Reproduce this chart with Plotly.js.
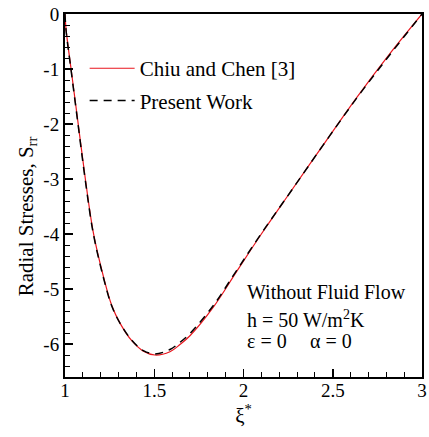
<!DOCTYPE html>
<html>
<head>
<meta charset="utf-8">
<script src="https://cdn.plot.ly/plotly-3.0.1.min.js"></script>
<style>html,body{margin:0;padding:0;background:#fff;}#chart{width:429px;height:437px;}</style>
</head>
<body>
<div id="chart"></div>
<script>
// Chiu and Chen [3] (red solid)
const xChiu = [1.000, 1.006, 1.034, 1.074, 1.114, 1.159, 1.215, 1.262, 1.308, 1.374, 1.439, 1.504, 1.588, 1.644, 1.700, 1.831, 1.962, 2.100, 2.260, 2.447, 2.634, 2.820, 3.000];
const yChiu = [0.00, -0.28, -1.00, -2.00, -3.00, -3.98, -4.77, -5.30, -5.62, -5.94, -6.13, -6.20, -6.14, -6.01, -5.85, -5.33, -4.68, -4.00, -3.25, -2.38, -1.52, -0.72, 0.00];
// Present Work (black dashed)
const xPresent = [1.000, 1.006, 1.034, 1.074, 1.114, 1.159, 1.215, 1.262, 1.308, 1.374, 1.439, 1.504, 1.588, 1.644, 1.700, 1.831, 1.962, 2.100, 2.260, 2.447, 2.634, 2.820, 3.000];
const yPresent = [0.00, -0.30, -1.02, -2.03, -3.03, -4.00, -4.79, -5.31, -5.62, -5.93, -6.12, -6.18, -6.10, -5.97, -5.81, -5.30, -4.66, -3.99, -3.25, -2.38, -1.53, -0.74, 0.00];

const xTicks = [1, 1.5, 2, 2.5, 3];
const xTickText = ['1', '1.5', '2', '2.5', '3'];
const yTicks = [0, -1, -2, -3, -4, -5, -6];
const yTickText = ['0', '-1', '-2', '-3', '-4', '-5', '-6'];

const serif = 'Liberation Serif, Times New Roman, serif';

const traces = [
  {x: xChiu, y: yChiu, mode: 'lines', name: 'Chiu and Chen [3]', legendgroup: 'a',
   line: {color: '#e8141c', width: 1.2, shape: 'spline', smoothing: 1}},
  {x: xPresent, y: yPresent, mode: 'lines', name: 'Present Work', legendgroup: 'b',
   line: {color: '#000000', width: 1.5, dash: '8px,6px', shape: 'spline', smoothing: 1}}
];

const axisCommon = {
  showgrid: false, zeroline: false, showline: true, linecolor: '#000', linewidth: 2,
  mirror: true, ticks: 'inside', ticklen: 8, tickwidth: 1.5, tickcolor: '#000',
  tickfont: {family: serif, size: 19, color: '#000'}
};

const layout = {
  width: 429, height: 437,
  margin: {l: 65, r: 7, t: 14, b: 60},
  paper_bgcolor: '#fff', plot_bgcolor: '#fff',
  showlegend: true,
  legend: {x: 0.055, y: 0.906, xanchor: 'left', yanchor: 'top', bgcolor: 'rgba(0,0,0,0)',
           itemwidth: 45,
           font: {family: serif, size: 21, color: '#000'}, traceorder: 'grouped', tracegroupgap: 2},
  xaxis: Object.assign({}, axisCommon, {
    range: [1, 3], tickvals: xTicks, ticktext: xTickText, ticklabelstandoff: -5,
    minor: {dtick: 0.1, ticklen: 5, tickwidth: 1, tickcolor: '#000', ticks: 'inside'},
    title: {text: 'ξ<sup>*</sup>', font: {family: serif, size: 21, color: '#000'}, standoff: 8}
  }),
  yaxis: Object.assign({}, axisCommon, {
    range: [-6.6, 0], tickvals: yTicks, ticktext: yTickText,
    minor: {dtick: 0.2, tick0: 0, ticklen: 5, tickwidth: 1, tickcolor: '#000', ticks: 'inside'},
    title: {text: 'Radial Stresses, S<sub>rr</sub>&nbsp;&nbsp;&nbsp;&nbsp;&nbsp;&nbsp;&nbsp;&nbsp;', font: {family: serif, size: 21, color: '#000'}, standoff: 4}
  }),
  annotations: [
    {x: 2.01, y: -5.05, xref: 'x', yref: 'y', xanchor: 'left', yanchor: 'middle', showarrow: false,
     text: 'Without Fluid Flow', font: {family: serif, size: 20, color: '#000'}},
    {x: 2.01, y: -5.55, xref: 'x', yref: 'y', xanchor: 'left', yanchor: 'middle', showarrow: false,
     text: 'h = 50 W/m<sup>2</sup>K', font: {family: serif, size: 20, color: '#000'}},
    {x: 2.01, y: -5.94, xref: 'x', yref: 'y', xanchor: 'left', yanchor: 'middle', showarrow: false,
     text: 'ε = 0', font: {family: serif, size: 20, color: '#000'}},
    {x: 2.36, y: -5.94, xref: 'x', yref: 'y', xanchor: 'left', yanchor: 'middle', showarrow: false,
     text: 'α = 0', font: {family: serif, size: 20, color: '#000'}}
  ]
};

Plotly.newPlot('chart', traces, layout, {displayModeBar: false, staticPlot: true});
</script>
</body>
</html>
